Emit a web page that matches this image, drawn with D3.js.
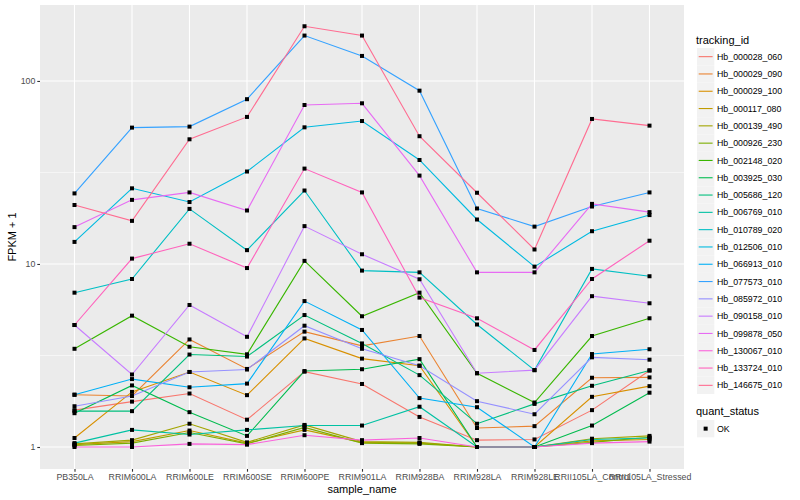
<!DOCTYPE html>
<html>
<head>
<meta charset="utf-8">
<script src="https://cdn.jsdelivr.net/npm/d3@7"></script>
<style>
  body { margin: 0; background: #fff; }
  svg { font-family: "Liberation Sans", Arial, sans-serif; }
</style>
</head>
<body>
<svg id="chart" width="800" height="500"></svg>
<script>
// sample names on the x axis
var samples = ["PB350LA", "RRIM600LA", "RRIM600LE", "RRIM600SE", "RRIM600PE", "RRIM901LA",
  "RRIM928BA", "RRIM928LA", "RRIM928LE", "RRII105LA_Control", "RRII105LA_Stressed"];

var trackingIds = ["Hb_000028_060", "Hb_000029_090", "Hb_000029_100", "Hb_000117_080", "Hb_000139_490",
  "Hb_000926_230", "Hb_002148_020", "Hb_003925_030", "Hb_005686_120", "Hb_006769_010",
  "Hb_010789_020", "Hb_012506_010", "Hb_066913_010", "Hb_077573_010", "Hb_085972_010",
  "Hb_090158_010", "Hb_099878_050", "Hb_130067_010", "Hb_133724_010", "Hb_146675_010"];

// FPKM + 1 per gene, one value per sample
var hb000028_060 = [1.59, 1.77, 1.96, 1.41, 2.58, 2.21, 1.46, 1.09, 1.10, 1.59, 2.62];
var hb000029_090 = [1.93, 1.90, 3.87, 2.67, 4.27, 3.57, 4.04, 1.27, 1.30, 2.39, 2.40];
var hb000029_100 = [1.12, 2.00, 2.57, 1.92, 3.92, 3.04, 2.78, 1.00, 1.00, 1.88, 2.15];
var hb000117_080 = [1.03, 1.07, 1.23, 1.05, 1.24, 1.06, 1.05, 1.00, 1.00, 1.08, 1.10];
var hb000139_490 = [1.04, 1.09, 1.34, 1.06, 1.32, 1.07, 1.06, 1.00, 1.00, 1.11, 1.15];
var hb000926_230 = [1.02, 1.05, 1.20, 1.04, 1.28, 1.05, 1.04, 1.00, 1.00, 1.06, 1.13];
var hb002148_020 = [3.44, 5.22, 3.53, 3.21, 10.4, 5.18, 6.97, 2.53, 1.75, 4.04, 5.05];
var hb003925_030 = [1.53, 2.17, 1.55, 1.15, 2.60, 2.66, 3.02, 1.00, 1.00, 1.31, 1.98];
var hb005686_120 = [1.57, 1.57, 3.20, 3.12, 5.26, 3.68, 2.47, 1.34, 1.72, 2.16, 2.62];
var hb006769_010 = [1.05, 1.24, 1.17, 1.24, 1.31, 1.31, 1.66, 1.00, 1.00, 1.10, 1.12];
var hb010789_020 = [6.97, 8.28, 20.0, 11.9, 25.2, 9.20, 9.00, 4.67, 2.63, 9.40, 8.57];
var hb012506_010 = [13.2, 25.9, 21.8, 32.0, 55.8, 60.4, 37.0, 17.5, 9.67, 15.1, 18.5];
var hb066913_010 = [1.93, 2.35, 2.12, 2.22, 6.27, 4.36, 1.85, 1.65, 1.00, 3.22, 3.42];
var hb077573_010 = [24.3, 55.6, 56.3, 79.5, 177, 137, 88.5, 20.1, 16.0, 20.6, 24.6];
var hb085972_010 = [1.67, 1.90, 2.57, 2.65, 4.60, 3.44, 2.78, 1.78, 1.51, 3.09, 3.00];
var hb090158_010 = [4.64, 2.49, 5.97, 4.00, 16.1, 11.3, 8.25, 2.53, 2.63, 6.67, 6.10];
var hb099878_050 = [15.9, 22.4, 24.6, 19.6, 73.9, 75.5, 30.4, 9.00, 9.00, 21.3, 19.2];
var hb130067_010 = [1.00, 1.00, 1.04, 1.03, 1.16, 1.09, 1.12, 1.00, 1.00, 1.05, 1.07];
var hb133724_010 = [4.64, 10.7, 12.9, 9.50, 33.2, 24.6, 6.55, 5.05, 3.39, 8.28, 13.4];
var hb146675_010 = [21.0, 17.2, 48.0, 63.6, 199, 177, 49.9, 24.5, 12.0, 62.0, 57.0];

var seriesValues = [hb000028_060, hb000029_090, hb000029_100, hb000117_080, hb000139_490,
  hb000926_230, hb002148_020, hb003925_030, hb005686_120, hb006769_010,
  hb010789_020, hb012506_010, hb066913_010, hb077573_010, hb085972_010,
  hb090158_010, hb099878_050, hb130067_010, hb133724_010, hb146675_010];

var yTicks = [1, 10, 100];

// ggplot hue palette, 20 levels
var colors = ["#F8766D", "#EA8331", "#D89000", "#C09B00", "#A3A500", "#7CAE00", "#39B600",
  "#00BB4E", "#00BF7D", "#00C1A3", "#00BFC4", "#00BAE0", "#00B0F6", "#35A2FF", "#9590FF",
  "#C77CFF", "#E76BF3", "#FA62DB", "#FF62BC", "#FF6C91"];

var svg = d3.select('#chart');
var panel = {left: 40, top: 5, right: 684, bottom: 469};

var x = d3.scalePoint()
  .domain(samples)
  .range([panel.left, panel.right])
  .padding(0.6);

var y = d3.scaleLog()
  .domain([Math.pow(10, -0.1202), Math.pow(10, 2.415)])
  .range([panel.bottom, panel.top]);

svg.append('rect')
  .attr('x', panel.left).attr('y', panel.top)
  .attr('width', panel.right - panel.left).attr('height', panel.bottom - panel.top)
  .attr('fill', '#EBEBEB');

// minor grid at half decades
var minor = [Math.pow(10, 0.5), Math.pow(10, 1.5)];
svg.selectAll('.minor').data(minor).enter().append('line')
  .attr('x1', panel.left).attr('x2', panel.right)
  .attr('y1', function(d) { return y(d); }).attr('y2', function(d) { return y(d); })
  .attr('stroke', '#fff').attr('stroke-width', 0.55);

svg.selectAll('.hgrid').data(yTicks).enter().append('line')
  .attr('x1', panel.left).attr('x2', panel.right)
  .attr('y1', function(d) { return y(d); }).attr('y2', function(d) { return y(d); })
  .attr('stroke', '#fff').attr('stroke-width', 1.1);

svg.selectAll('.vgrid').data(samples).enter().append('line')
  .attr('y1', panel.top).attr('y2', panel.bottom)
  .attr('x1', function(d) { return x(d); }).attr('x2', function(d) { return x(d); })
  .attr('stroke', '#fff').attr('stroke-width', 1.1);

var line = d3.line()
  .x(function(d, i) { return x(samples[i]); })
  .y(function(d) { return y(d); });

seriesValues.forEach(function(vals, k) {
  svg.append('path')
    .datum(vals)
    .attr('d', line)
    .attr('fill', 'none')
    .attr('stroke', colors[k])
    .attr('stroke-width', 1.1);
});

seriesValues.forEach(function(vals) {
  svg.selectAll(null).data(vals).enter().append('rect')
    .attr('x', function(d, i) { return x(samples[i]) - 2; })
    .attr('y', function(d) { return y(d) - 2; })
    .attr('width', 4).attr('height', 4)
    .attr('fill', '#000');
});

// axes
var yAxis = svg.append('g')
  .attr('transform', 'translate(' + panel.left + ',0)')
  .call(d3.axisLeft(y).tickValues(yTicks).tickFormat(d3.format('d')).tickSize(2.7).tickPadding(2));
var xAxis = svg.append('g')
  .attr('transform', 'translate(0,' + panel.bottom + ')')
  .call(d3.axisBottom(x).tickSize(2.7).tickPadding(2));

[yAxis, xAxis].forEach(function(g) {
  g.select('.domain').remove();
  g.selectAll('.tick line').attr('stroke', '#333').attr('stroke-width', 1.1);
  g.selectAll('.tick text').attr('fill', '#4D4D4D').style('font-size', '8.8px');
});

svg.append('text')
  .attr('x', (panel.left + panel.right) / 2).attr('y', 493)
  .attr('text-anchor', 'middle').style('font-size', '11px')
  .text('sample_name');

svg.append('text')
  .attr('transform', 'translate(16,' + ((panel.top + panel.bottom) / 2) + ') rotate(-90)')
  .attr('text-anchor', 'middle').style('font-size', '11px')
  .text('FPKM + 1');

// legend: tracking_id
var lg = svg.append('g').attr('transform', 'translate(697,0)');
lg.append('text').attr('x', -1).attr('y', 44).style('font-size', '11px').text('tracking_id');

var keys = lg.selectAll('.key').data(trackingIds).enter().append('g')
  .attr('transform', function(d, i) { return 'translate(0,' + (48 + i * 17.3) + ')'; });
keys.append('rect').attr('width', 17.3).attr('height', 17.3).attr('fill', '#F2F2F2');
keys.append('line')
  .attr('x1', 1.7).attr('x2', 15.6).attr('y1', 8.65).attr('y2', 8.65)
  .attr('stroke', function(d, i) { return colors[i]; }).attr('stroke-width', 1.1);
keys.append('text')
  .attr('x', 20).attr('y', 8.65).attr('dy', '0.35em')
  .style('font-size', '8.8px').attr('fill', '#000')
  .text(function(d) { return d; });

// legend: quant_status
var lq = svg.append('g').attr('transform', 'translate(697,0)');
lq.append('text').attr('x', -1).attr('y', 415).style('font-size', '11px').text('quant_status');
lq.append('rect').attr('y', 420).attr('width', 17.3).attr('height', 17.3).attr('fill', '#F2F2F2');
lq.append('rect').attr('x', 6.65).attr('y', 426.65).attr('width', 4).attr('height', 4).attr('fill', '#000');
lq.append('text').attr('x', 20).attr('y', 428.65).attr('dy', '0.35em')
  .style('font-size', '8.8px').text('OK');
</script>
</body>
</html>
